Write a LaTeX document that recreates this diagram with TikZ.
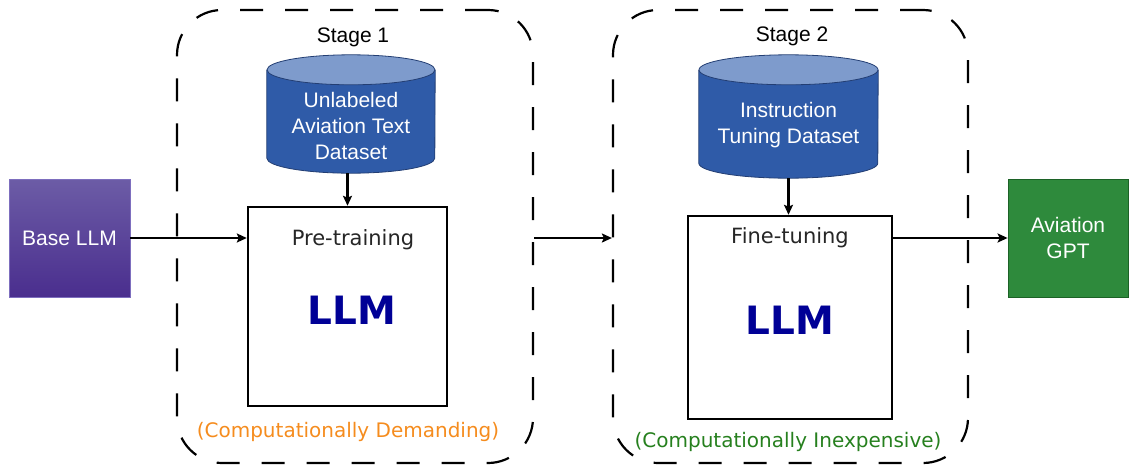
\documentclass[tikz,border=0pt]{standalone}
\usepackage{fontspec}
\setmainfont{Liberation Sans}
\newfontfamily\verd{DejaVu Sans}
\usetikzlibrary{arrows.meta,calc}
\definecolor{cylbody}{RGB}{47,91,168}
\definecolor{cyltop}{RGB}{126,155,204}
\definecolor{cylline}{RGB}{35,62,115}
\definecolor{gptfill}{RGB}{46,138,60}
\definecolor{gptline}{RGB}{28,98,38}
\definecolor{purtop}{RGB}{108,92,166}
\definecolor{purbot}{RGB}{74,46,142}
\definecolor{purline}{RGB}{125,110,190}
\definecolor{orangetxt}{RGB}{245,140,30}
\definecolor{greentxt}{RGB}{38,128,30}
\definecolor{navy}{RGB}{0,0,150}
\tikzset{
  stagebox/.style={draw=black, line width=2.2pt, dash pattern=on 23pt off 22pt, rounded corners=45pt, inner sep=0pt},
  llmbox/.style={draw=black, line width=2.4pt, fill=white, inner sep=0pt},
  cylbox/.style={inner sep=0pt},
  celltxt/.style={text=white, font=\fontsize{21}{26}\selectfont, align=center, inner sep=0pt},
  stagelbl/.style={font=\fontsize{21}{26}\selectfont, inner sep=0pt},
  verdtxt/.style={font=\verd\fontsize{21}{26}\selectfont, text=black!85, inner sep=0pt},
  bigllm/.style={font=\verd\bfseries\fontsize{39}{44}\selectfont, text=navy, inner sep=0pt},
  conn/.style={line width=2.3pt, -{Stealth[length=10pt,width=9pt,inset=2pt]}},
}
\newcommand{\drawcyl}[3]{% node, half width, ry
  \fill[cylbody] ($(#1.north west)+(0,-#3)$) -- ($(#1.south west)+(0,#3)$)
     arc[start angle=180,end angle=360,x radius=#2pt,y radius=#3pt]
     -- ($(#1.north east)+(0,-#3)$) -- cycle;
  \draw[cylline, line width=0.8pt] ($(#1.north west)+(0,-#3)$) -- ($(#1.south west)+(0,#3)$)
     arc[start angle=180,end angle=360,x radius=#2pt,y radius=#3pt]
     -- ($(#1.north east)+(0,-#3)$);
  \draw[cylline, line width=0.8pt, fill=cyltop] ($(#1.north)+(0,-#3)$) ellipse[x radius=#2pt,y radius=#3pt];
}
\begin{document}
\begin{tikzpicture}[x=1pt,y=1pt]
\useasboundingbox (0,0) rectangle (1133,-469);
% stage boxes
\node[stagebox, minimum width=356pt, minimum height=453pt] (s1) at (355,-236.5) {};
\node[stagebox, minimum width=355pt, minimum height=453pt] (s2) at (790.5,-236.5) {};
\node[stagelbl] (l1) at (353,-37) {Stage 1};
\node[stagelbl] (l2) at (792,-36) {Stage 2};
% base LLM
\node[draw=purline, line width=0.8pt, top color=purtop, bottom color=purbot, minimum width=121pt, minimum height=118pt, celltxt] (base) at (69.5,-238) {Base LLM};
% Aviation GPT
\node[draw=gptline, line width=0.8pt, fill=gptfill, minimum width=120pt, minimum height=118pt, celltxt] (gpt) at (1068,-238) {Aviation\\GPT};
% cylinders
\node[cylbox, minimum width=168pt, minimum height=118pt] (d1) at (351,-114) {};
\drawcyl{d1}{84}{15}
\node[celltxt] (d1t) at (351,-126) {Unlabeled\\Aviation Text\\Dataset};
\node[cylbox, minimum width=179pt, minimum height=123pt] (d2) at (788.5,-116.5) {};
\drawcyl{d2}{89.5}{15}
\node[celltxt] (d2t) at (788.5,-125) {Instruction\\Tuning Dataset};
% LLM boxes
\node[llmbox, minimum width=199pt, minimum height=199pt] (p1) at (347.5,-306.5) {};
\node[verdtxt] (p1t) at (353,-240) {Pre-training};
\node[bigllm] (p1l) at (352,-310) {LLM};
\node[llmbox, minimum width=204pt, minimum height=203pt] (f1) at (790,-317.5) {};
\node[verdtxt] (f1t) at (790,-238) {Fine-tuning};
\node[bigllm] (f1l) at (790,-320) {LLM};
% captions
\node[font=\verd\fontsize{20}{24}\selectfont, text=orangetxt, inner sep=0pt] (c1) at (348,-432) {(Computationally Demanding)};
\node[font=\verd\fontsize{20}{24}\selectfont, text=greentxt, inner sep=0pt] (c2) at (788,-442) {(Computationally Inexpensive)};
% connectors
\draw[conn] (base.east) -- (base.east -| p1.west);
\draw[conn] (d1.south -| p1.north) -- (p1.north);
\draw[conn] ([yshift=-1.5pt]s1.east) -- ([yshift=-1.5pt]s1.east -| s2.west);
\draw[conn] (d2.south) -- (d2.south |- f1.north);
\draw[conn] (gpt.west -| f1.east) -- (gpt.west);
\end{tikzpicture}
\end{document}
